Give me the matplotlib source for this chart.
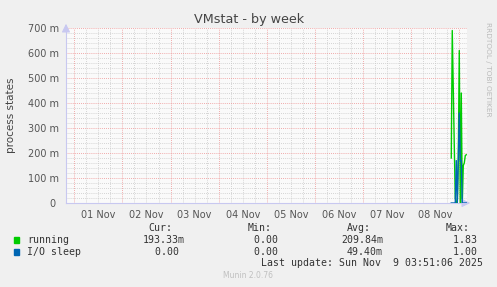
import numpy as np
import matplotlib
matplotlib.use("Agg")
import matplotlib.pyplot as plt
from matplotlib.ticker import FixedLocator, FixedFormatter

# hours since 01 Nov 00:00, 30 min steps (only the last few hours have data)
hours = [188.0, 188.5, 189.0, 189.5, 190.0, 190.5, 191.0, 191.5,
         192.0, 192.5, 193.0, 193.5, 194.0, 194.5, 195.0, 195.5]
running = [0.18, 0.69, 0.46, 0.23, 0.02, 0.0, 0.0, 0.17,
           0.61, 0.0, 0.44, 0.0, 0.15, 0.16, 0.19, 0.193]
io_sleep = [0.0, 0.0, 0.0, 0.0, 0.0, 0.17, 0.0, 0.17,
            0.36, 0.17, 0.17, 0.0, 0.0, 0.0, 0.0, 0.0]

day_labels = ["01 Nov", "02 Nov", "03 Nov", "04 Nov", "05 Nov", "06 Nov", "07 Nov", "08 Nov"]
y_ticks = [0, 0.1, 0.2, 0.3, 0.4, 0.5, 0.6, 0.7]
y_labels = ["0 ", "100 m", "200 m", "300 m", "400 m", "500 m", "600 m", "700 m"]

legend_names = ["running", "I/O sleep"]
legend_colors = ["#00CC00", "#0066B3"]
cur_vals = ["193.33m", "0.00 "]
min_vals = ["0.00 ", "0.00 "]
avg_vals = ["209.84m", "49.40m"]
max_vals = ["1.83 ", "1.00 "]

W, H = 497, 287
fig = plt.figure(figsize=(W / 100, H / 100), dpi=100)
fig.patch.set_facecolor("#F0F0F0")

L, R, T, B = 66, 467, 28, 203
ax = fig.add_axes([L / W, 1 - B / H, (R - L) / W, (B - T) / H])
ax.set_facecolor("#FAFAFA")
ax.set_xlim(-4.14, 195.85)
ax.set_ylim(0, 0.7)

# grid: minor every 6 h / 20 m, major every day / 100 m
for h in np.arange(-0, 196, 6):
    if h % 24:
        ax.axvline(h, color="#C8C8C8", lw=0.6, ls=(0, (1, 1.5)), zorder=0)
for yy in np.arange(0.02, 0.701, 0.02):
    if round(yy * 100) % 10:
        ax.axhline(yy, color="#C8C8C8", lw=0.6, ls=(0, (1, 1.5)), zorder=0)
for h in range(0, 196, 24):
    ax.axvline(h, color="#EE9090", lw=0.6, ls=(0, (1, 1.5)), zorder=1)
for yy in y_ticks[1:]:
    ax.axhline(yy, color="#EE9090", lw=0.6, ls=(0, (1, 1.5)), zorder=1)

ax.plot(hours, running, color=legend_colors[0], lw=1, zorder=3)
ax.plot(hours, io_sleep, color=legend_colors[1], lw=1, zorder=4)

for s in ["top", "right"]:
    ax.spines[s].set_visible(False)
for s in ["left", "bottom"]:
    ax.spines[s].set_color("#C8C8F0")
    ax.spines[s].set_linewidth(0.8)

# axis arrows
ax.annotate("", xy=(1.0 + 6 / (R - L), 0), xytext=(0.99, 0), xycoords="axes fraction",
            arrowprops=dict(arrowstyle="-|>,head_length=0.5,head_width=0.25", color="#C8C8F0", lw=0.8))
ax.annotate("", xy=(0, 1.0 + 7 / (B - T)), xytext=(0, 0.99), xycoords="axes fraction",
            arrowprops=dict(arrowstyle="-|>,head_length=0.5,head_width=0.25", color="#C8C8F0", lw=0.8))

ax.xaxis.set_major_locator(FixedLocator([12 + 24 * i for i in range(8)]))
ax.xaxis.set_major_formatter(FixedFormatter(day_labels))
ax.yaxis.set_major_locator(FixedLocator(y_ticks))
ax.yaxis.set_major_formatter(FixedFormatter(y_labels))
ax.tick_params(axis="both", length=0, labelsize=7, colors="#555555")
ax.tick_params(axis="x", pad=5)
ax.tick_params(axis="y", pad=5)

fig.text(249 / W, 1 - 19 / H, "VMstat - by week", ha="center", va="center",
         fontsize=9.2, color="#444444")
fig.text(11 / W, 1 - 115.5 / H, "process states", rotation=90, ha="center", va="center",
         fontsize=7.5, color="#444444")
fig.text(488 / W, 1 - 22 / H, "RRDTOOL / TOBI OETIKER", rotation=270, ha="center", va="top",
         fontsize=5.3, color="#BBBBBB")

mono = dict(family="DejaVu Sans Mono", fontsize=7.1, color="#333333", va="center")
for xr, txt in [(172, "Cur:"), (272, "Min:"), (371, "Avg:"), (470, "Max:")]:
    fig.text(xr / W, 1 - 228 / H, txt, ha="right", **mono)

for i, name in enumerate(legend_names):
    yrow = 240 + 12 * i
    fig.patches.append(plt.Rectangle((14 / W, 1 - (yrow + 3) / H), 5 / W, 6 / H,
                                     transform=fig.transFigure, color=legend_colors[i]))
    fig.text(27 / W, 1 - yrow / H, name, ha="left", **mono)
    fig.text(185 / W, 1 - yrow / H, cur_vals[i], ha="right", **mono)
    fig.text(284 / W, 1 - yrow / H, min_vals[i], ha="right", **mono)
    fig.text(383 / W, 1 - yrow / H, avg_vals[i], ha="right", **mono)
    fig.text(483 / W, 1 - yrow / H, max_vals[i], ha="right", **mono)

fig.text(483 / W, 1 - 263.5 / H, "Last update: Sun Nov  9 03:51:06 2025", ha="right", **mono)
fig.text(248 / W, 1 - 276 / H, "Munin 2.0.76", ha="center", va="center",
         fontsize=5.5, color="#C0C0C0")

fig.savefig("out.png", dpi=100, facecolor=fig.get_facecolor())
